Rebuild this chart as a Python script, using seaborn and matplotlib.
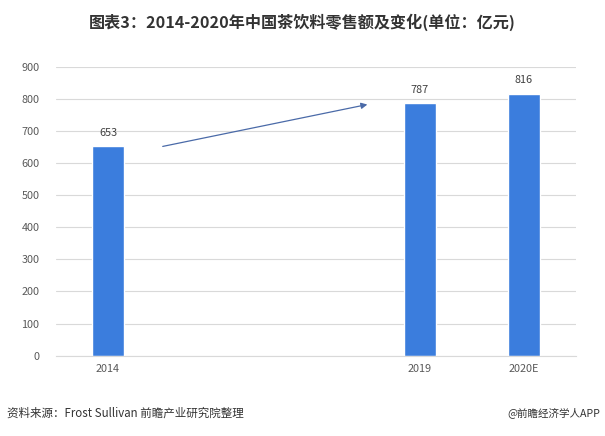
import numpy as np
import pandas as pd
import matplotlib
matplotlib.use("Agg")
import matplotlib.pyplot as plt
import seaborn as sns

categories = ["2014", " ", "  ", "2019", "2020E"]
values = [653, np.nan, np.nan, 787, 816]
yticks = [0, 100, 200, 300, 400, 500, 600, 700, 800, 900]

sns.set_theme(style="white")
plt.rcParams['font.family'] = ['Noto Sans CJK SC', 'DejaVu Sans']

df = pd.DataFrame({"year": categories, "value": values})

fig = plt.figure(figsize=(6.05, 4.36), dpi=100)
ax = fig.add_axes([56/605, 1-355.7/436, 520/605, (355.7-66.7)/436])

sns.barplot(data=df, x="year", y="value", order=categories, color="#3b7ddd",
            saturation=1, width=0.31, ax=ax)

ax.set_ylim(0, 900)
ax.set_yticks(yticks)
ax.grid(axis="y", color="#d9d9d9", linewidth=0.8)
ax.set_axisbelow(True)
for s in ["top", "right", "left"]:
    ax.spines[s].set_visible(False)
ax.spines["bottom"].set_color("#d9d9d9")
ax.spines["bottom"].set_linewidth(0.8)
ax.set_xlabel("")
ax.set_ylabel("")
ax.tick_params(axis="both", length=0, labelsize=7.8, colors="#595959")
ax.tick_params(axis="y", pad=12)
ax.tick_params(axis="x", pad=6)

for c in ax.containers:
    labels = ["" if np.isnan(v) else f"{int(v)}" for v in c.datavalues]
    ax.bar_label(c, labels=labels, padding=6, fontsize=7.8, color="#404040")

ax.annotate("", xy=(2.52, 784), xytext=(0.5, 650),
            arrowprops=dict(arrowstyle="-|>", color="#4a6aa8", lw=0.9,
                            mutation_scale=9))

fig.text(0.5, 1-22/436, "图表3：2014-2020年中国茶饮料零售额及变化(单位：亿元)",
         ha="center", va="center", fontsize=11.6, fontweight="bold", color="#333333")
fig.text(7/605, 1-413/436, "资料来源：Frost Sullivan 前瞻产业研究院整理",
         ha="left", va="center", fontsize=8.3, color="#333333")
fig.text(600/605, 1-413/436, "@前瞻经济学人APP",
         ha="right", va="center", fontsize=7.6, color="#333333")

fig.savefig("out.png", dpi=100)
